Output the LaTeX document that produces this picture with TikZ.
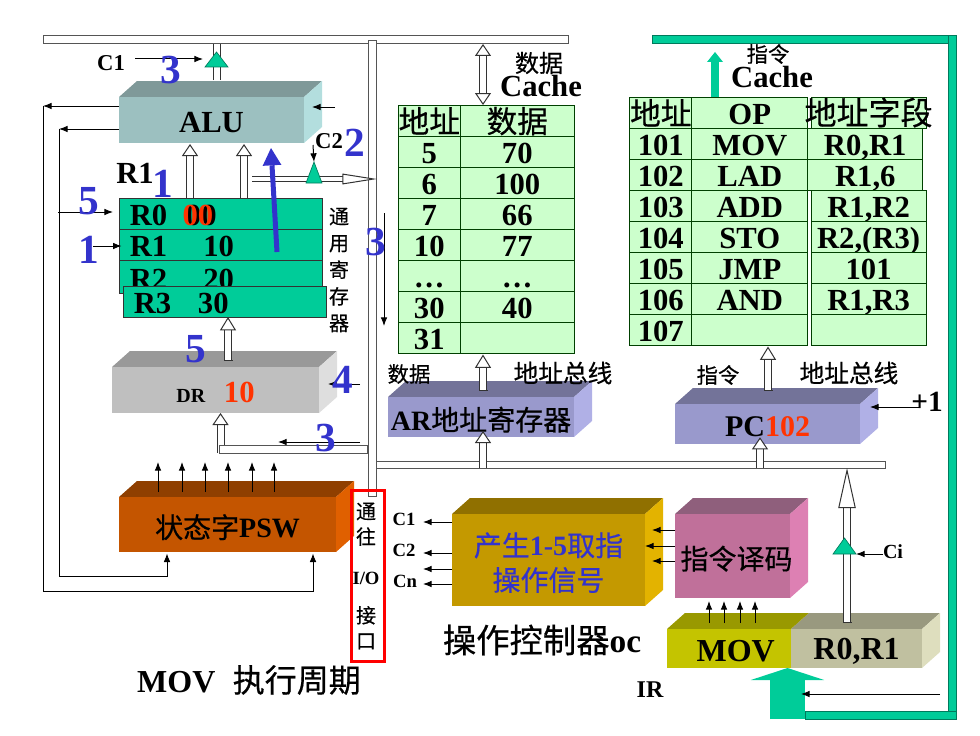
\documentclass[tikz,border=0pt]{standalone}
\usepackage{fontspec}
\usepackage{xcolor}
\setmainfont{Liberation Serif}
\newfontfamily\cjk[FakeBold=0.5]{Noto Sans CJK SC}
\usetikzlibrary{arrows.meta, calc, matrix, positioning, shapes.geometric}
\definecolor{busgray}{HTML}{555555}
\definecolor{regteal}{HTML}{00CC99}
\definecolor{memgreen}{HTML}{CCFFCC}
\definecolor{stepblue}{HTML}{3333CC}
\definecolor{valred}{HTML}{FF3300}
\definecolor{alufront}{HTML}{9CC0C0}
\definecolor{alutop}{HTML}{7F9999}
\definecolor{aluside}{HTML}{B3DEDE}
\definecolor{pswfront}{HTML}{C45500}
\definecolor{pswtop}{HTML}{8F3F00}
\definecolor{pswside}{HTML}{E06000}
\definecolor{addrfront}{HTML}{9999CC}
\definecolor{addrtop}{HTML}{737399}
\definecolor{addrside}{HTML}{B0B0E6}
\definecolor{ctlfront}{HTML}{C49900}
\definecolor{ctltop}{HTML}{907000}
\definecolor{ctlside}{HTML}{E3B300}
\definecolor{decfront}{HTML}{C0709A}
\definecolor{dectop}{HTML}{8F5F7C}
\definecolor{decside}{HTML}{DD80B3}
\definecolor{movfront}{HTML}{C4C400}
\definecolor{movtop}{HTML}{999900}
\definecolor{adfront}{HTML}{C0C0A0}
\definecolor{adtop}{HTML}{99997F}
\definecolor{adside}{HTML}{DEDEBE}
\newcommand{\sz}[1]{\fontsize{#1}{#1}\bfseries\selectfont}
\newcommand{\zh}[1]{{\cjk\mdseries #1}}
\tikzset{
  %sizes are given in pixels of the reference
  pxsize/.style 2 args={minimum width=#1*0.75pt, minimum height=#2*0.75pt},
  lbl/.style={inner sep=0pt, outer sep=0pt, font=\sz{23}},
  stepnum/.style={lbl, text=stepblue, font=\sz{31}},
  bustube/.style={
    draw=busgray
    , fill=white
    , line width=0.75pt
    , inner sep=0pt
    , outer sep=0pt
    , anchor=north west
  },
  greenbus/.style={bustube, draw=regteal!60!black, fill=regteal},
  regbox/.style={
    draw=black!80
    , fill=regteal
    , line width=0.75pt
    , inner sep=0pt
    , outer sep=0pt
    , anchor=north west
    , font=\sz{23}
    , text width=136pt
    , align=left
    , text height=19pt
    , text depth=1pt
  },
  cell/.style={
    draw=black!75!green
    , fill=memgreen
    , line width=0.75pt
    , inner sep=0pt
    , outer sep=0pt
    , minimum height=23.25pt
    , text height=20.25pt
    , text depth=3pt
    , font=\sz{23}
  },
  sig/.style={-{Latex[length=6.5pt,width=5pt]}, line width=0.75pt},
  openarrow/.style={
    draw=black!80
    , line width=0.75pt
    , double=white
    , double distance=4.5pt
    , -{Triangle[length=9pt,width=12pt,fill=white,line width=0.75pt]}
  },
  closedarrow/.style={
    openarrow
    , {Bar[width=6.75pt,line width=0.75pt]}-{Triangle[length=10pt,width=12pt,fill=white,line width=0.75pt]}
  },
  tealstem/.style={
    draw=regteal
    , line width=6pt
    , -{Triangle[length=7.5pt,width=12pt,line width=0pt]}
  },
  gate/.style={
    isosceles triangle
    , isosceles triangle stretches
    , shape border rotate=90
    , draw=regteal!60!black
    , fill=regteal
    , line width=0.5pt
    , inner sep=0pt
    , outer sep=0pt
    , anchor=lower side
  },
}
% name, left, top, width, height, front, top face, side face, text
\newcommand{\solidbox}[9]{
  \fill [#7] (#2,#3) -- ++(18,-16) -- ++(#4,0) -- ++(-18,16) -- cycle;
  \fill [#8] (#2+#4,#3) -- ++(18,-16) -- ++(0,#5) -- ++(-18,16) -- cycle;
  \node [fill=#6, inner sep=0pt, outer sep=0pt, anchor=north west, pxsize={#4}{#5}] (#1) at (#2,#3) {};
  \node [lbl, align=center, yshift=-2pt] (#1-t) at (#1) {#9};
}

\begin{document}
\begin{tikzpicture}[x=0.75pt,y=-0.75pt]
  \useasboundingbox (0,0) rectangle (980,735);

  %buses
  \node [bustube, pxsize={525}{8}] (databus) at (43,36) {};
  \node [bustube, pxsize={8}{455}] (vbus) at (368,41) {};
  \node [bustube, pxsize={509}{7}] (lowbus) at (376,461) {};
  \node [greenbus, pxsize={304}{8}] (gtop) at (652,36) {};
  \node [greenbus, pxsize={8}{683}] (gright) at (948,36) {};

  %boxes
  \solidbox{alu}{119}{97}{185}{46}{alufront}{alutop}{aluside}{ALU}
  \solidbox{dr}{112}{367}{207}{46}{black!25}{black!40}{black!13}{\sz{15}DR\hspace{14pt}\textcolor{valred}{\sz{23}10}}
  \solidbox{psw}{119}{497}{217}{55}{pswfront}{pswtop}{pswside}{\sz{21}\zh{状态字}PSW}
  \solidbox{ar}{388}{397}{186}{40}{addrfront}{addrtop}{addrside}{\sz{21}AR\zh{地址寄存器}}
  \solidbox{pc}{675}{404}{185}{40}{addrfront}{addrtop}{addrside}{\sz{22.5}PC\textcolor{valred}{102}}
  \solidbox{ctl}{452}{514}{193}{92}{ctlfront}{ctltop}{ctlside}{\textcolor{stepblue}{\sz{21}\zh{产生}1-5\zh{取指}}\\[3pt]\textcolor{stepblue}{\sz{21}\zh{操作信号}}}
  \solidbox{dec}{675}{514}{115}{84}{decfront}{dectop}{decside}{\sz{21}\hspace{6pt}\zh{指令译码}}
  \solidbox{irop}{667}{629}{124}{39}{movfront}{movtop}{movfront}{\sz{24}\hspace{10pt}MOV}
  \solidbox{irad}{791}{629}{131}{39}{adfront}{adtop}{adside}{\sz{24}R0,R1}

  %registers
  \node [regbox, pxsize={203}{31}] (r0) at (119,198) {R0\hspace{14pt}\rlap{\textcolor{black}{00}}\hspace{-2.5pt}\textcolor{valred}{00}};
  \node [regbox, pxsize={203}{31}, below=0pt of r0] (r1) {R1\hspace{27pt}10};
  \node [regbox, pxsize={203}{33}, below=0pt of r1, text height=20pt] (r2) {R2\hspace{27pt}20};
  \node [regbox, pxsize={203}{31}] (r3) at (123,286) {R3\hspace{20pt}30};

  %memories
  \matrix (dcache) [
    matrix of nodes
    , nodes in empty cells
    , anchor=north west
    , inner sep=0pt
    , nodes={cell}
    , column sep=-0.75pt
    , row sep=-0.75pt
    , column 1/.style={nodes={minimum width=46.5pt}}
    , column 2/.style={nodes={minimum width=85.5pt}}
    , ampersand replacement=\&
  ] at (397.5,105) {
    \zh{地址} \& \zh{数据} \\
    5 \& 70 \\
    6 \& 100 \\
    7 \& 66 \\
    10 \& 77 \\
    … \& … \\
    30 \& 40 \\
    31 \& \\
  };%end matrix
  \matrix (icache) [
    matrix of nodes
    , nodes in empty cells
    , anchor=north west
    , inner sep=0pt
    , nodes={cell}
    , column sep=-0.75pt
    , row sep=-0.75pt
    , column 1/.style={nodes={minimum width=46.5pt}}
    , column 2/.style={nodes={minimum width=87pt}}
    , column 3/.style={nodes={minimum width=86.25pt}}
    , ampersand replacement=\&
  ] at (629,97) {
    \zh{地址} \& OP \& \makebox[0pt]{\sz{24}\zh{地址字段}} \\
    101 \& MOV \& |[xshift=-2.5pt]| R0,R1 \\
    102 \& LAD \& |[xshift=-2.5pt]| R1,6 \\
    103 \& ADD \& R1,R2 \\
    104 \& STO \& \makebox[0pt]{R2,(R3)} \\
    105 \& JMP \& 101 \\
    106 \& AND \& R1,R3 \\
    107 \& \& \\
  };%end matrix

  %free ends of connectors
  \coordinate (aluL1) at (43,106);
  \coordinate (aluL2) at (59,129);
  \coordinate (aluR) at (335,107);
  \coordinate (pswA) at (313,552);
  \coordinate (pswB) at (167,552);
  \coordinate (stemALU) at (217,80);
  \coordinate (c1from) at (135,59);
  \coordinate (c2from) at (313,145);
  \coordinate (outALU) at (252,179);
  \coordinate (outEnd) at (377,179);
  \coordinate (r0from) at (58,212);
  \coordinate (r1from) at (93,246);
  \coordinate (blueS) at (277,252);
  \coordinate (blueN) at (271,148);
  \coordinate (down3) at (384,213);
  \coordinate (drR) at (360,384);
  \coordinate (tube3) at (360,442);
  \coordinate (drtube) at (220.5,453);
  \coordinate (portD) at (483,44);
  \coordinate (portI) at (715,52);
  \coordinate (arup) at (483,391);
  \coordinate (pcup) at (768,391);
  \coordinate (arin) at (483,468);
  \coordinate (pcin) at (760,468);
  \coordinate (plus1) at (920,407);
  \coordinate (irout) at (847,623);
  \coordinate (cifrom) at (883,554);
  \coordinate (irBase) at (787.5,719);
  \coordinate (irLine) at (940,694);

  %open arrows
  \draw [openarrow] (r0.north -| 190,0) -- (190,144);
  \draw [openarrow] (r0.north -| 244,0) -- (244,144);
  \draw [closedarrow] (228,361) -- (r3.south -| 228,0);
  \draw [closedarrow] (arup) -- (arup |- dcache.south);
  \draw [closedarrow] (pcup) -- (pcup |- icache.south);
  \draw [openarrow] (drtube) -- (drtube |- dr.south);
  \node [bustube, pxsize={148}{8}] (drbus) at (219,445) {};
  \draw [openarrow] (arin) -- ([yshift=4.5pt]arin |- ar.south);
  \draw [openarrow] (pcin) -- ([yshift=5pt]pcin |- pc.south);
  \draw [closedarrow, {Bar[width=6.75pt,line width=0.75pt]}-{Triangle[length=30pt,width=13pt,fill=white,line width=0.75pt]}] (irout) -- (irout |- lowbus.south);
  \draw [openarrow, {Triangle[length=9pt,width=12pt,fill=white,line width=0.75pt]}-{Triangle[length=9pt,width=12pt,fill=white,line width=0.75pt]}] (portD) -- (portD |- dcache.north);
  \draw [draw=black!80, line width=0.75pt, double=white, double distance=4.5pt] (stemALU) -- (stemALU |- databus.south);
  \draw [openarrow, double distance=2.5pt, -{Triangle[length=26pt,width=8pt,fill=white,line width=0.75pt]}] (outALU) -- (outEnd);

  %teal gates
  \node [gate, pxsize={23}{15}] (gateA) at (216.5,67) {};
  \node [gate, pxsize={16}{21}] (gateB) at (314,183) {};
  \node [gate, pxsize={23}{16}] (gateC) at (844.5,554) {};

  %teal instruction bus
  \draw [tealstem] (portI |- icache.north) -- (portI);
  \draw [tealstem, line width=26pt, -{Triangle[length=9pt,width=55pt,line width=0pt]}] (irBase) -- (irBase |- irop.south);
  \node [greenbus, pxsize={151}{8}] (gbot) at (805,711) {};

  %signals
  \draw [sig] (alu.west |- aluL1) -- (aluL1);
  \draw [sig] (alu.west |- aluL2) -- (aluL2);
  \draw [sig, shorten >=1pt] (aluL1) -- ++(0,485) -| (pswA);
  \draw [sig, shorten >=1pt] (aluL2) -- ++(0,447) -| (pswB);
  \draw [sig] (aluR) -- ++(-23,0);
  \draw [sig] (c1from) -- ++(68,0);
  \draw [sig] (c2from) -- (gateB.apex);
  \draw [sig] (r0from) -- ([xshift=-4.5pt]r0.west |- r0from);
  \draw [sig] (r1from) -- ([xshift=2pt]r1.west |- r1from);
  \draw [sig] (down3) -- ++(0,113);
  \draw [sig] (drR) -- ++(-32,0);
  \draw [sig] (tube3) -- ++(-82,0);
  \draw [sig] (plus1) -- ++(-50,0);
  \draw [sig] (cifrom) -- ++(-27,0);
  \draw [sig] (irLine) -- ++(-139,0);
  \foreach \x in {158,182,205,228,252,274}
    \draw [sig] (\x,492) -- (\x,462);
  \foreach \x in {709,724,740,755}
    \draw [sig] (\x,623) -- (\x,601);
  \foreach \y in {522,553,569,584}
    \draw [sig] (ctl.west |- 0,\y) -- ++(-29,0);
  \draw [sig] (dec.west |- 0,530) -- ++(-23,0);
  \draw [sig] (dec.west |- 0,546) -- ++(-30,0);
  \draw [sig] (dec.west |- 0,561) -- ++(-23,0);

  \draw [-{Triangle[length=13pt,width=14pt,line width=0pt]}, stepblue, line width=3.75pt] (blueS) -- (blueN);

  %red frame
  \node [draw=red, line width=2.25pt, inner sep=0pt, anchor=north west, pxsize={33}{171}] (iobox) at (350,489) {};

  %labels
  \node [lbl, font=\sz{17}] (lC1) at (111,63) {C1};
  \node [lbl, font=\sz{17}] (lC2) at (329,141) {C2};
  \node [lbl] (lR1) at (135,173) {R1};
  \node [lbl] (lCacheD) at (541,86) {Cache};
  \node [lbl, font=\sz{18}] (lDataTop) at (539,63) {\zh{数据}};
  \node [lbl] (lCacheI) at (772,77) {Cache};
  \node [lbl, font=\sz{16}] (lInstrTop) at (768,54) {\zh{指令}};
  \node [lbl, font=\sz{16}] (lDataAR) at (409,374) {\zh{数据}};
  \node [lbl, font=\sz{18.5}] (lAddrAR) at (563,373) {\zh{地址总线}};
  \node [lbl, font=\sz{16}] (lInstrPC) at (718,375) {\zh{指令}};
  \node [lbl, font=\sz{18.5}] (lAddrPC) at (849,373) {\zh{地址总线}};
  \node [lbl, font=\sz{22}] (lPlus) at (927,402) {+1};
  \node [lbl, font=\sz{14}] (lCa) at (404,519) {C1};
  \node [lbl, font=\sz{14}] (lCb) at (404,550) {C2};
  \node [lbl, font=\sz{14}] (lCn) at (405,581) {Cn};
  \node [lbl, font=\sz{15}] (lCi) at (893,552) {Ci};
  \node [lbl, font=\sz{18}] (lIR) at (650,690) {IR};
  \node [lbl, font=\sz{25}] (lOC) at (542,640) {\zh{操作控制器}oc};
  \node [lbl, font=\sz{24}] (lTitle) at (249,680) {MOV\hspace{13pt}\zh{执行周期}};
  \node [lbl, font=\fontsize{15}{20}\bfseries\selectfont, align=center] (lRegs) at (339,270) {\zh{通}\\\zh{用}\\\zh{寄}\\\zh{存}\\\zh{器}};
  \node [lbl, font=\fontsize{15}{19}\bfseries\selectfont, align=center] (lIO) at (366,576) {\zh{通}\\\zh{往}\\[11pt]{\sz{14}I/O}\\[10pt]\zh{接}\\\zh{口}};

  %step numbers
  \node [stepnum] (s3a) at (171,70) {3};
  \node [stepnum] (s2) at (355,143) {2};
  \node [stepnum] (s1a) at (163,184) {1};
  \node [stepnum] (s5a) at (89,201) {5};
  \node [stepnum] (s1b) at (89,250) {1};
  \node [stepnum] (s3b) at (376,242) {3};
  \node [stepnum] (s5b) at (196,349) {5};
  \node [stepnum] (s4) at (343,380) {4};
  \node [stepnum] (s3c) at (326,438) {3};
\end{tikzpicture}
\end{document}
